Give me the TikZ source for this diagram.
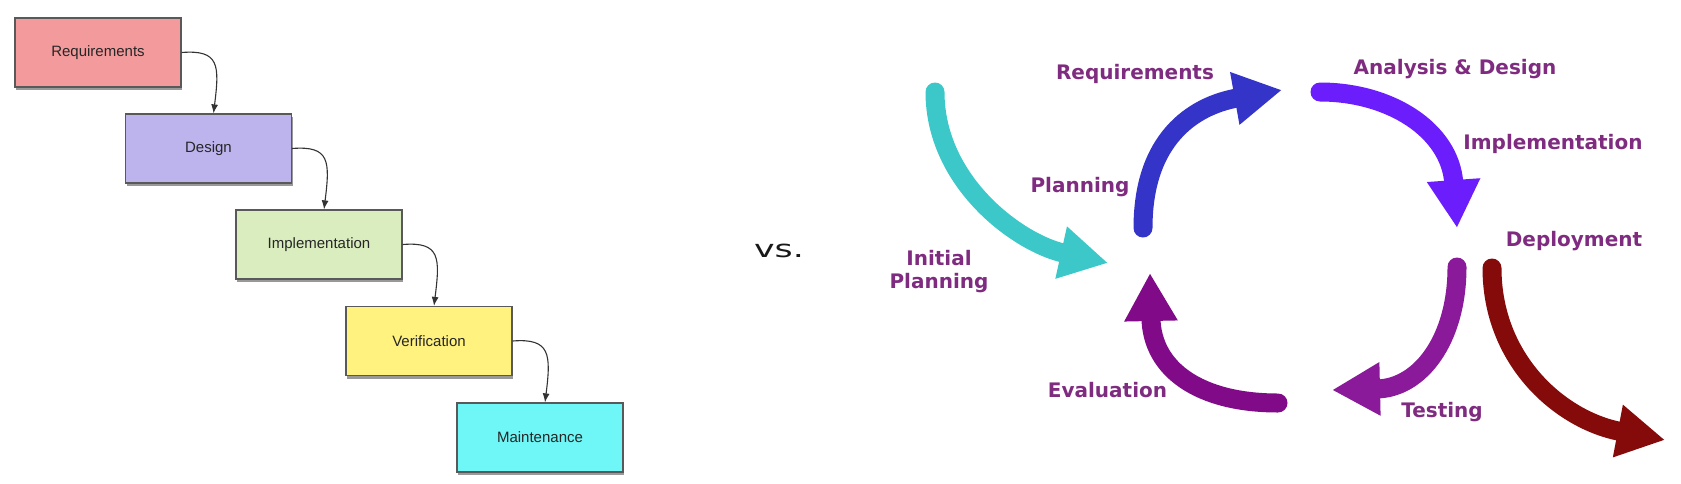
\documentclass[tikz,border=0pt]{standalone}
\usepackage{fontspec}
\setmainfont{Liberation Sans}
\newfontfamily\labelfont{DejaVu Sans}
\usetikzlibrary{arrows.meta,shadows}

\definecolor{reqcol}{HTML}{F39B9C}
\definecolor{descol}{HTML}{BDB4EE}
\definecolor{impcol}{HTML}{DAEDBE}
\definecolor{vercol}{HTML}{FFF27E}
\definecolor{maicol}{HTML}{6FF6F6}
\definecolor{phasetext}{HTML}{7E2B80}
\definecolor{initcol}{HTML}{3CC8C8}
\definecolor{plancol}{HTML}{3434C8}
\definecolor{anacol}{HTML}{6B1DFC}
\definecolor{testcol}{HTML}{8A1A9A}
\definecolor{evalcol}{HTML}{800A88}
\definecolor{depcol}{HTML}{850A0A}

\begin{document}
\begin{tikzpicture}[x=1pt,y=1pt,
    stage/.style={draw=black!65, line width=1.2pt, minimum width=166pt, minimum height=69pt, inner sep=0pt,
        font=\fontsize{15}{18}\selectfont, text=black!85,
        drop shadow={shadow xshift=1pt, shadow yshift=-3pt, opacity=0.4, fill=black}},
    flow/.style={-{Latex[length=9pt,width=7pt]}, line width=1.1pt, black!80},
    phase/.style={font=\labelfont\bfseries\fontsize{20}{23}\selectfont, text=phasetext, inner sep=0pt},
    bigarrow/.style={line width=19pt, line cap=round, -{Triangle[length=48pt,width=50pt]}}]
    \useasboundingbox (0,0) rectangle (1681,-483); % page size in px
    % waterfall
    \node[stage, fill=reqcol] (req) at (98,-52.5) {Requirements};
    \node[stage, fill=descol] (des) at (208.5,-148.5) {Design};
    \node[stage, fill=impcol] (imp) at (319,-244.5) {Implementation};
    \node[stage, fill=vercol] (ver) at (429,-341) {Verification};
    \node[stage, fill=maicol] (mai) at (540,-437.5) {Maintenance};
    \draw[flow] (req.east) .. controls +(38,3) and +(6,48) .. ([xshift=5pt]des.north);
    \draw[flow] (des.east) .. controls +(38,3) and +(6,48) .. ([xshift=5pt]imp.north);
    \draw[flow] (imp.east) .. controls +(38,3) and +(6,48) .. ([xshift=5pt]ver.north);
    \draw[flow] (ver.east) .. controls +(38,3) and +(6,48) .. ([xshift=5pt]mai.north);

    \node[font=\labelfont\fontsize{24}{28}\selectfont, text=black!90, xscale=1.45, transform shape] (vs) at (779,-250.5) {vs.};

    % iterative cycle
    \coordinate (init1) at (935,-92);   \coordinate (init2) at (1108,-263);
    \coordinate (plan1) at (1143,-228); \coordinate (plan2) at (1282,-90);
    \coordinate (ana1) at (1320,-92);   \coordinate (ana2) at (1457,-228);
    \coordinate (test1) at (1457,-267); \coordinate (test2) at (1332,-390);
    \coordinate (eval1) at (1278,-403); \coordinate (eval2) at (1150,-273);
    \coordinate (dep1) at (1492,-268);  \coordinate (dep2) at (1665,-440);
    \draw[bigarrow, initcol] (init1) .. controls +(0,-90) and +(-90,20) .. (init2);
    \draw[bigarrow, plancol] (plan1) .. controls +(0,88) and +(-90,-16) .. (plan2);
    \draw[bigarrow, anacol] (ana1) .. controls +(70,0) and +(-7,98) .. (ana2);
    \draw[bigarrow, testcol] (test1) .. controls +(0,-73) and +(88,2) .. (test2);
    \draw[bigarrow, evalcol] (eval1) .. controls +(-78,0) and +(2,-97) .. (eval2);
    \draw[bigarrow, depcol] (dep1) .. controls +(0,-92) and +(-105,20) .. (dep2);

    \node[phase, anchor=base] (lreq) at (1135,-79.5) {Requirements};
    \node[phase, anchor=base] (lplan) at (1080,-192) {Planning};
    \node[phase, align=center] (linit) at (939,-272) {Initial\\Planning};
    \node[phase, anchor=base] (lana) at (1455,-74.5) {Analysis \& Design};
    \node[phase, anchor=base] (limp) at (1553,-149.5) {Implementation};
    \node[phase, anchor=base] (ldep) at (1574,-246.5) {Deployment};
    \node[phase, anchor=base] (ltest) at (1442,-417.5) {Testing};
    \node[phase, anchor=base] (leval) at (1107.5,-397.5) {Evaluation};
\end{tikzpicture}
\end{document}
